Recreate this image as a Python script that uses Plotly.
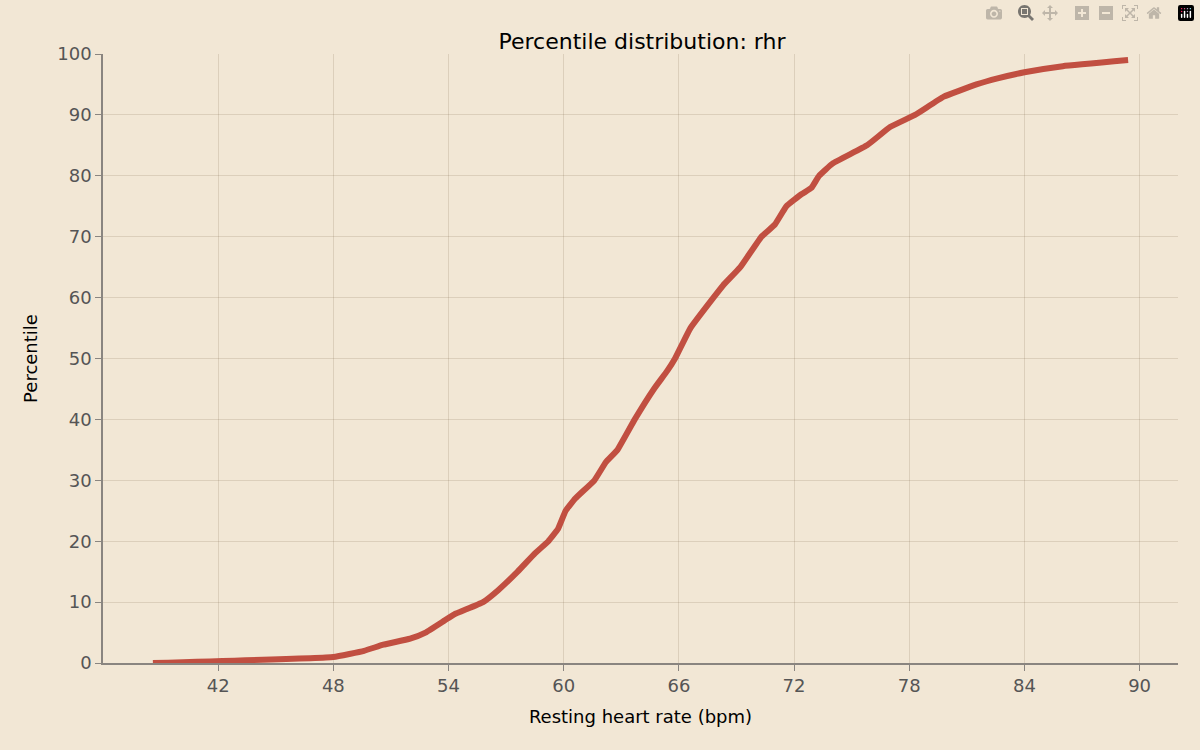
import plotly.graph_objects as go

percentiles = [0,1,2,3,4,5,7,8,10,12,15,18,20,22,25,27,30,33,35,40,45,48,50,55,60,62,65,70,72,75,77,78,80,82,85,88,90,93,95,96,97,98,99]
rhr = [38.6,48.0,49.6,50.6,52.0,52.8,53.8,54.3,55.8,56.6,57.6,58.5,59.2,59.7,60.1,60.6,61.6,62.2,62.8,63.7,64.7,65.4,65.8,66.6,67.8,68.3,69.2,70.3,71.0,71.6,72.4,72.9,73.3,74.0,75.8,77.0,78.3,79.8,81.5,82.6,84.0,86.0,89.4]
x_ticks = [42,48,54,60,66,72,78,84,90]

bg = "#f2e7d5"
fig = go.Figure(go.Scatter(x=rhr, y=percentiles, mode="lines",
                           line=dict(color="#c14f41", width=6, shape="spline", smoothing=0.3)))
fig.update_layout(
    width=1200, height=750, paper_bgcolor=bg, plot_bgcolor=bg,
    font=dict(family="DejaVu Sans", size=18, color="#000"),
    title=dict(text="Percentile distribution: rhr", x=0.535, y=0.955, xanchor="center", font=dict(size=22)),
    margin=dict(l=103, r=22, t=54, b=87), showlegend=False,
)
axis_common = dict(showgrid=True, gridcolor="rgba(120,100,70,0.18)", gridwidth=1,
                   showline=True, linecolor="#8a8580", linewidth=1.5, ticks="outside",
                   tickcolor="#8a8580", ticklen=6, tickfont=dict(color="#555", size=18), zeroline=False)
fig.update_xaxes(range=[36, 92], tickvals=x_ticks, title=dict(text="Resting heart rate (bpm)", font=dict(size=18)), **axis_common)
fig.update_yaxes(range=[0, 100], dtick=10, title=dict(text="Percentile", font=dict(size=18)), **axis_common)
fig.write_html("out.html", post_script="document.body.style.margin='0';document.body.style.background='%s';" % bg)
